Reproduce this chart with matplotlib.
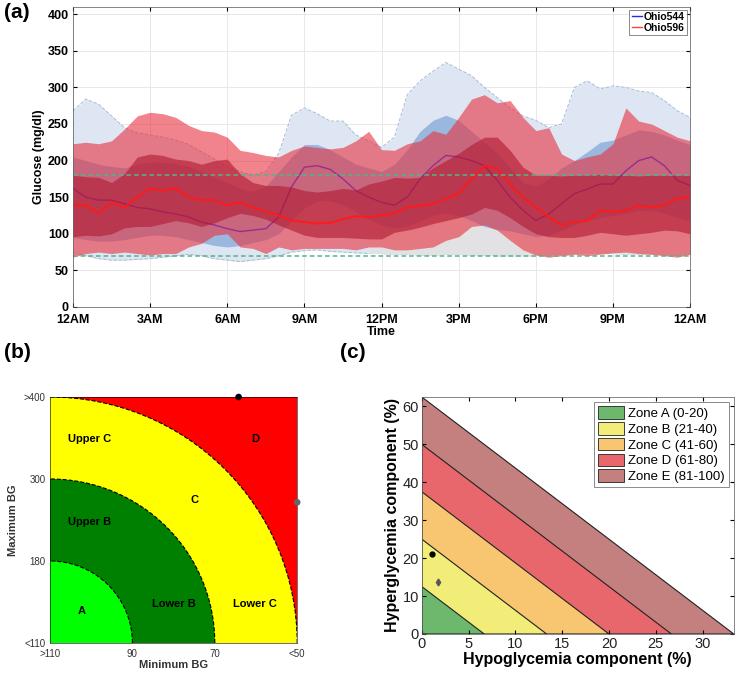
import numpy as np
import matplotlib.pyplot as plt
from matplotlib.patches import Wedge, Arc, Rectangle, Polygon, Patch
from matplotlib.lines import Line2D

plt.rcParams['font.family'] = ['Liberation Sans', 'DejaVu Sans']

# ---- panel (a): daily glucose profiles, sampled every 30 min ----
hours = np.arange(0, 24.5, 0.5)
time_ticks = [0, 3, 6, 9, 12, 15, 18, 21, 24]
time_labels = ['12AM', '3AM', '6AM', '9AM', '12PM', '3PM', '6PM', '9PM', '12AM']

med544 = [162, 150, 146, 146, 141, 136, 134, 130, 127, 123, 116, 112, 107, 103, 105, 107,
          123, 164, 191, 193, 188, 175, 159, 150, 143, 139, 150, 175, 193, 207, 205, 200,
          193, 173, 150, 132, 118, 127, 141, 155, 161, 168, 168, 186, 200, 205, 193, 173, 166]
out544_hi = [268, 284, 277, 261, 245, 238, 235, 232, 228, 222, 212, 202, 192, 185, 180, 185,
             210, 262, 272, 264, 254, 254, 235, 227, 218, 232, 290, 309, 322, 334, 325, 316,
             300, 286, 272, 261, 255, 245, 250, 300, 309, 298, 302, 300, 295, 293, 282, 268, 259]
out544_lo = [74, 70, 66, 64, 64, 65, 66, 68, 70, 72, 70, 66, 64, 62, 64, 66,
             70, 75, 77, 78, 76, 75, 74, 73, 73, 72, 72, 71, 71, 72, 72, 71,
             71, 70, 70, 70, 70, 72, 72, 73, 74, 74, 73, 72, 72, 72, 72, 71, 72]
in544_hi = [205, 200, 195, 192, 190, 195, 198, 198, 196, 192, 185, 178, 170, 162, 158, 165,
            185, 205, 222, 222, 215, 205, 195, 190, 185, 195, 215, 240, 255, 262, 255, 240,
            225, 210, 190, 170, 165, 175, 190, 200, 212, 225, 228, 235, 242, 240, 235, 228, 222]
in544_lo = [95, 92, 90, 90, 92, 95, 98, 98, 96, 92, 88, 84, 82, 84, 88, 92,
            100, 118, 135, 145, 145, 140, 130, 120, 112, 108, 110, 118, 125, 128, 125, 118,
            110, 106, 104, 100, 96, 98, 105, 112, 118, 122, 125, 128, 132, 132, 128, 122, 118]

med596 = [139, 139, 128, 143, 136, 150, 162, 159, 162, 150, 146, 146, 139, 143, 136, 130,
          125, 118, 116, 114, 115, 120, 124, 123, 125, 128, 136, 138, 141, 148, 155, 175,
          193, 189, 168, 150, 136, 123, 112, 116, 118, 132, 130, 132, 139, 136, 139, 148, 150]
out596_hi = [223, 225, 223, 227, 243, 261, 266, 264, 259, 248, 241, 239, 232, 214, 211, 207,
             205, 214, 220, 218, 216, 218, 227, 240, 215, 214, 223, 227, 241, 236, 259, 284,
             290, 279, 282, 259, 241, 245, 209, 200, 205, 209, 223, 272, 254, 250, 241, 232, 227]
out596_lo = [68, 73, 75, 73, 75, 73, 71, 73, 73, 82, 87, 98, 100, 82, 80, 73,
             82, 78, 80, 80, 80, 80, 78, 82, 82, 78, 78, 80, 82, 91, 96, 110,
             112, 105, 91, 78, 71, 68, 70, 72, 70, 72, 74, 75, 73, 72, 70, 68, 72]
in596_hi = [180, 178, 177, 170, 182, 205, 209, 207, 202, 200, 195, 200, 202, 182, 170, 166,
            166, 164, 159, 157, 159, 162, 160, 168, 172, 177, 176, 177, 190, 200, 210, 222,
            232, 232, 214, 191, 180, 180, 179, 180, 180, 181, 180, 180, 179, 180, 180, 180, 180]
in596_lo = [96, 98, 97, 100, 108, 110, 110, 114, 118, 115, 110, 115, 122, 128, 125, 120,
            112, 105, 98, 95, 95, 95, 94, 93, 93, 102, 105, 109, 114, 118, 122, 127,
            136, 132, 122, 110, 100, 96, 95, 95, 98, 102, 100, 98, 100, 102, 105, 104, 100]

target_range = [70, 180]

# ---- panel (b): min/max BG zones ----
b_xlabels = ['>110', '90', '70', '<50']
b_ylabels = ['<110', '180', '300', '>400']
b_rings = [1.0, 2 / 3, 1 / 3]
b_ring_colors = ['#ffff00', '#008000', '#00ff00']
b_text = ['Upper C', 'D', 'C', 'Upper B', 'A', 'Lower B', 'Lower C']
b_text_pos = [(0.16, 0.83), (0.83, 0.83), (0.585, 0.58), (0.16, 0.49),
              (0.13, 0.13), (0.5, 0.16), (0.83, 0.16)]
b_pts_x = [0.763, 1.0]
b_pts_y = [1.0, 0.572]
b_pts_c = ['black', '#666666']

# ---- panel (c): glycemia risk index zones ----
gri_limits = [20, 40, 60, 80, 100]
zone_names = ['Zone A (0-20)', 'Zone B (21-40)', 'Zone C (41-60)', 'Zone D (61-80)', 'Zone E (81-100)']
zone_colors = ['#6cb86c', '#f2ec78', '#f8c570', '#e8676d', '#c47f7f']
w_hypo, w_hyper = 3.0, 1.6
c_pts_x = [1.1, 1.7]
c_pts_y = [21.0, 13.8]

fig = plt.figure(figsize=(7.4, 6.82), dpi=100)

# ---------------- (a) ----------------
ax = fig.add_axes([0.0986, 0.5499, 0.834, 0.440])
ax.fill_between(hours, out544_lo, out544_hi, color='#dde6f2', lw=0, zorder=1)
ax.plot(hours, out544_hi, ls='--', color='#a9bcd6', lw=0.7, zorder=1.1)
ax.plot(hours, out544_lo, ls='--', color='#a9bcd6', lw=0.7, zorder=1.1)
ax.fill_between(hours, out544_lo, in544_lo, where=hours >= 11.5, color='#e2e2e4', lw=0, zorder=1.2)
ax.fill_between(hours, in544_lo, in544_hi, color='#9ab8de', lw=0, zorder=1.3)
ax.plot(hours, med544, color='#2626ff', lw=1.0, zorder=1.4)
ax.fill_between(hours, out596_lo, out596_hi, color='#e8303f', alpha=0.6, lw=0, zorder=1.5)
ax.fill_between(hours, in596_lo, in596_hi, color='#b01830', alpha=0.6, lw=0, zorder=1.6)
ax.plot(hours, med596, color='#ff1a1a', lw=1.4, zorder=1.7)
for v in target_range:
    ax.axhline(v, color='#55b585', ls=(0, (3, 2)), lw=1.1, zorder=3)

ax.set_xlim(0, 24)
ax.set_ylim(0, 410)
ax.set_xticks(time_ticks)
ax.set_xticklabels(time_labels)
ax.set_yticks(range(0, 401, 50))
ax.tick_params(direction='in', length=3, top=True, right=True, labelsize=9)
ax.tick_params(axis='x', pad=5)
ax.tick_params(axis='y', pad=3)
for t in ax.get_xticklabels() + ax.get_yticklabels():
    t.set_fontweight('bold')
ax.grid(True, color='#e4e4e4', lw=0.6, zorder=0)
ax.set_axisbelow(True)
for s in ax.spines.values():
    s.set_linewidth(0.5)
    s.set_color('#555555')
    s.set_zorder(4)
ax.set_xlabel('Time', fontweight='bold', fontsize=9, labelpad=0)
ax.set_ylabel('Glucose (mg/dl)', fontweight='bold', fontsize=9, labelpad=2)
leg = ax.legend([Line2D([], [], color='#2626ff', lw=1), Line2D([], [], color='#ff4040', lw=1)],
                ['Ohio544', 'Ohio596'], loc='upper right', prop={'weight': 'bold', 'size': 7.5},
                fancybox=False, handlelength=1.0, handletextpad=0.2, borderpad=0.2,
                labelspacing=0.1, borderaxespad=0.3)
leg.get_frame().set_edgecolor('#555555')
leg.get_frame().set_linewidth(0.6)
leg.set_zorder(6)

# ---------------- (b) ----------------
axb = fig.add_axes([0.0676, 0.0572, 0.334, 0.3607])
axb.add_patch(Rectangle((0, 0), 1, 1, facecolor='#ff0000', edgecolor='none'))
for r, c in zip(b_rings, b_ring_colors):
    axb.add_patch(Wedge((0, 0), r, 0, 90, facecolor=c, edgecolor='none'))
    axb.add_patch(Arc((0, 0), 2 * r, 2 * r, theta1=0, theta2=90, ls='--', lw=0.8, color='black'))
for label, (tx, ty) in zip(b_text, b_text_pos):
    axb.text(tx, ty, label, ha='center', va='center', fontsize=8, fontweight='bold')
axb.scatter(b_pts_x, b_pts_y, c=b_pts_c, s=14, zorder=5, clip_on=False)
axb.set_xlim(0, 1)
axb.set_ylim(0, 1)
axb.set_xticks([0, 1 / 3, 2 / 3, 1])
axb.set_xticklabels(b_xlabels)
axb.set_yticks([0, 1 / 3, 2 / 3, 1])
axb.set_yticklabels(b_ylabels)
axb.tick_params(length=0, labelsize=7, labelcolor='#333333')
axb.tick_params(axis='x', pad=4)
axb.tick_params(axis='y', pad=3)
for s in axb.spines.values():
    s.set_linewidth(0.4)
axb.set_xlabel('Minimum BG', fontweight='bold', fontsize=8, color='#333333', labelpad=1)
axb.set_ylabel('Maximum BG', fontweight='bold', fontsize=8, color='#333333', labelpad=4)

# ---------------- (c) ----------------
axc = fig.add_axes([0.570, 0.0704, 0.4216, 0.3475])
for lim, c in reversed(list(zip(gri_limits, zone_colors))):
    axc.add_patch(Polygon([(0, 0), (lim / w_hypo, 0), (0, lim / w_hyper)],
                          closed=True, facecolor=c, edgecolor='#222222', lw=0.8))
axc.plot(c_pts_x[:1], c_pts_y[:1], 'o', color='black', ms=3.5, zorder=5)
axc.plot(c_pts_x[1:], c_pts_y[1:], 'd', color='#555555', ms=3.5, zorder=5)
axc.set_xlim(0, 100 / w_hypo)
axc.set_ylim(0, 100 / w_hyper)
axc.set_xticks(range(0, 31, 5))
axc.set_yticks(range(0, 61, 10))
axc.tick_params(direction='in', length=3, top=True, right=True, labelsize=10.5, pad=2,
                labelcolor='#222222')
for s in axc.spines.values():
    s.set_linewidth(0.5)
    s.set_color('#555555')
axc.set_xlabel('Hypoglycemia component (%)', fontweight='bold', fontsize=11.5, labelpad=1)
axc.set_ylabel('Hyperglycemia component (%)', fontweight='bold', fontsize=11.5, labelpad=2)
handles = [Patch(facecolor=c, edgecolor='#222222', lw=0.6) for c in zone_colors]
legc = axc.legend(handles, zone_names, loc='upper right', fontsize=9.5, fancybox=False,
                  handlelength=2.0, handleheight=1.1, handletextpad=0.3, borderpad=0.3,
                  labelspacing=0.15, borderaxespad=0.4)
legc.get_frame().set_edgecolor('#555555')
legc.get_frame().set_linewidth(0.6)

fig.text(0.005, 0.995, '(a)', fontsize=15, fontweight='bold', va='top')
fig.text(0.005, 0.497, '(b)', fontsize=15, fontweight='bold', va='top')
fig.text(0.459, 0.497, '(c)', fontsize=15, fontweight='bold', va='top')

fig.savefig('out.png', dpi=100)
